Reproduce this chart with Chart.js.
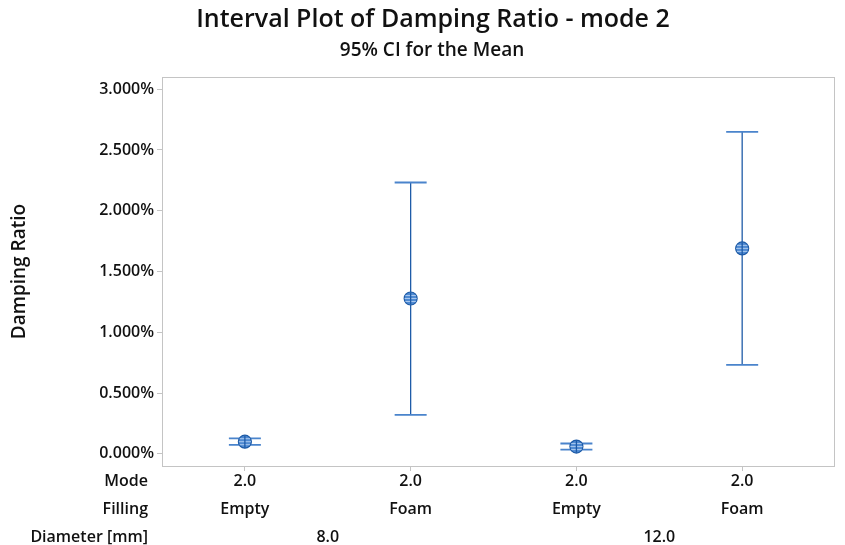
<!DOCTYPE html>
<html>
<head>
<meta charset="utf-8">
<script src="https://cdn.jsdelivr.net/npm/chart.js@4.4.1/dist/chart.umd.min.js"></script>
<style>
  html, body { margin: 0; padding: 0; background: #fff; }
  #wrap { width: 845px; height: 545px; }
</style>
</head>
<body>
<div id="wrap"><canvas id="c" width="845" height="545"></canvas></div>
<script>
// values (damping ratio, %)
const modes = ['2.0', '2.0', '2.0', '2.0'];
const fillings = ['Empty', 'Foam', 'Empty', 'Foam'];
const diameters = ['8.0', '8.0', '12.0', '12.0'];
const means = [0.100, 1.278, 0.060, 1.690];
const lowers = [0.074, 0.321, 0.035, 0.732];
const uppers = [0.127, 2.232, 0.085, 2.648];
const yTicks = [0, 0.5, 1, 1.5, 2, 2.5, 3];

const FONT = '"Open Sans", "Noto Sans", sans-serif';
const TEXT = '#111111';
const LINE = '#1f5ca8';
const CAP = '#4a84cc';

const intervalPlugin = {
  id: 'intervals',
  afterDatasetsDraw(chart) {
    const { ctx, scales: { x, y } } = chart;
    ctx.save();
    means.forEach((m, i) => {
      const px = x.getPixelForValue(i + 1);
      const yl = y.getPixelForValue(lowers[i]);
      const yu = y.getPixelForValue(uppers[i]);
      ctx.strokeStyle = LINE; ctx.lineWidth = 1.3;
      ctx.beginPath(); ctx.moveTo(px, yu); ctx.lineTo(px, yl); ctx.stroke();
      ctx.strokeStyle = CAP; ctx.lineWidth = 1.8;
      ctx.beginPath();
      ctx.moveTo(px - 16, yu); ctx.lineTo(px + 16, yu);
      ctx.moveTo(px - 16, yl); ctx.lineTo(px + 16, yl);
      ctx.stroke();
      // mean symbol
      const py = y.getPixelForValue(m);
      ctx.beginPath(); ctx.arc(px, py, 6.5, 0, Math.PI * 2);
      ctx.fillStyle = '#4f8ad2'; ctx.fill();
      ctx.strokeStyle = '#1d5aa6'; ctx.lineWidth = 1.2; ctx.stroke();
      ctx.strokeStyle = '#a9c8ee'; ctx.lineWidth = 1;
      ctx.beginPath();
      [-3, 0, 3].forEach(d => { const w = Math.sqrt(36 - d * d); ctx.moveTo(px - w, py + d); ctx.lineTo(px + w, py + d); });
      ctx.stroke();
      ctx.strokeStyle = '#1d5aa6'; ctx.lineWidth = 1.3;
      ctx.beginPath(); ctx.moveTo(px, py - 6); ctx.lineTo(px, py + 6); ctx.stroke();
    });
    ctx.restore();
  },
  afterDraw(chart) {
    const { ctx, chartArea: a, scales: { x } } = chart;
    ctx.save();
    // frame
    ctx.strokeStyle = '#c4c4c4'; ctx.lineWidth = 1;
    ctx.strokeRect(a.left + 0.5, a.top + 0.5, a.right - a.left - 1, a.bottom - a.top);
    // titles
    ctx.fillStyle = TEXT; ctx.textAlign = 'center'; ctx.textBaseline = 'middle';
    ctx.font = '600 25px ' + FONT;
    ctx.fillText('Interval Plot of Damping Ratio - mode 2', 433, 20);
    ctx.font = '600 19px ' + FONT;
    ctx.fillText('95% CI for the Mean', 432, 51);
    // bottom rows
    ctx.font = '600 16px ' + FONT;
    ctx.textAlign = 'right';
    ctx.fillText('Mode', 148, 481);
    ctx.fillText('Filling', 148, 509);
    ctx.fillText('Diameter [mm]', 148, 537);
    ctx.textAlign = 'center';
    modes.forEach((m, i) => {
      const px = x.getPixelForValue(i + 1);
      ctx.fillText(m, px, 481);
      ctx.fillText(fillings[i], px, 509);
    });
    const groups = [...new Set(diameters)];
    groups.forEach(g => {
      const idx = diameters.map((d, i) => d === g ? i + 1 : null).filter(v => v !== null);
      const mid = (x.getPixelForValue(idx[0]) + x.getPixelForValue(idx[idx.length - 1])) / 2;
      ctx.fillText(g, mid, 537);
    });
    ctx.restore();
  }
};

new Chart(document.getElementById('c'), {
  type: 'scatter',
  data: { datasets: [{ data: means.map((m, i) => ({ x: i + 1, y: m })), pointRadius: 0 }] },
  plugins: [intervalPlugin],
  options: {
    responsive: false, animation: false, devicePixelRatio: 1,
    layout: { padding: { top: 77, right: 10, left: 0, bottom: 0 } },
    plugins: { legend: { display: false }, tooltip: { enabled: false } },
    scales: {
      x: {
        type: 'linear', min: 0.5, max: 4.56,
        afterBuildTicks: s => { s.ticks = [1, 2, 3, 4].map(v => ({ value: v })); },
        afterFit: s => { s.height = 79; },
        ticks: { display: false },
        grid: { drawOnChartArea: false, tickLength: 5, color: '#c4c4c4' },
        border: { display: false }
      },
      y: {
        min: -0.1, max: 3.1,
        afterBuildTicks: s => { s.ticks = yTicks.map(v => ({ value: v })); },
        afterFit: s => { s.width = 162; },
        ticks: { color: TEXT, font: { family: FONT, size: 16, weight: '600' }, padding: 3, callback: v => v.toFixed(3) + '%' },
        grid: { drawOnChartArea: false, tickLength: 5, color: '#c4c4c4' },
        border: { display: false },
        title: { display: true, text: 'Damping Ratio', color: TEXT, font: { family: FONT, size: 19, weight: '600' }, padding: { top: 8, bottom: 0 } }
      }
    }
  }
});
</script>
</body>
</html>
